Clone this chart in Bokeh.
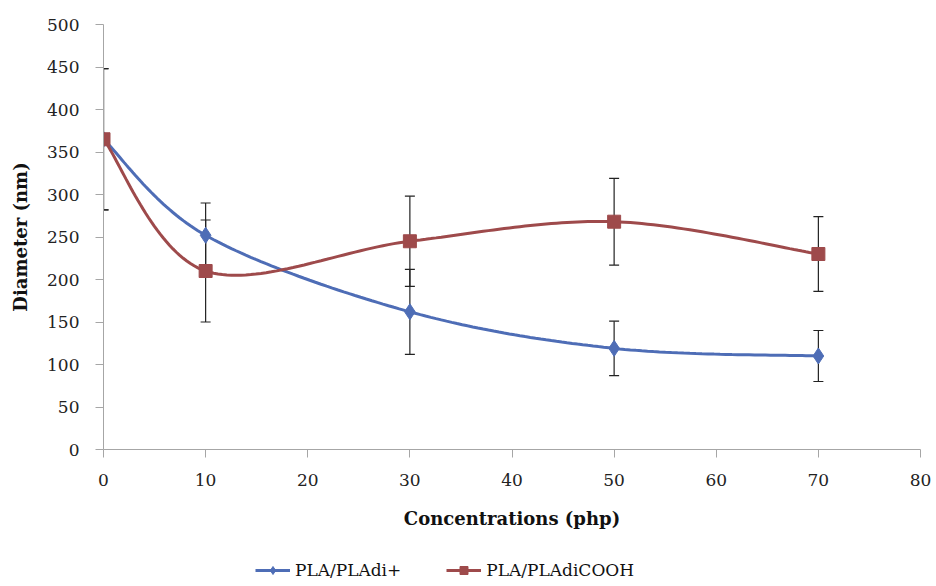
import numpy as np
from bokeh.plotting import figure
from bokeh.layouts import column
from bokeh.models import Range1d, Whisker, TeeHead, ColumnDataSource, Legend, LegendItem, FixedTicker
from bokeh.embed import file_html
from bokeh.resources import INLINE

# ---- data ----
conc = [0, 10, 30, 50, 70]
dia_plus = [365, 252, 162, 119, 110]
err_plus = [83, 38, 50, 32, 30]
dia_cooh = [365, 210, 245, 268, 230]
err_cooh = [83, 60, 53, 51, 44]
x_ticks = [0, 10, 20, 30, 40, 50, 60, 70, 80]
y_ticks = [0, 50, 100, 150, 200, 250, 300, 350, 400, 450, 500]
series_names = ["PLA/PLAdi+", "PLA/PLAdiCOOH"]

BLUE = "#4E6DB6"
RED = "#9E4A4B"
FONT = "DejaVu Serif"

W = 936
H1, H2 = 549, 37
FL, FR, FT, FB = 103, 16, 24, 100
sx = (W - FL - FR) / 80.0
sy = (H1 - FT - FB) / 500.0


def smooth(xs, ys, n=40):
    # Bezier smoothing (Excel-like), computed in screen proportions
    P = np.column_stack([np.array(xs, float) * sx, np.array(ys, float) * sy])
    out = []
    m = len(P)
    for i in range(m - 1):
        p0 = P[i - 1] if i > 0 else P[i]
        p1, p2 = P[i], P[i + 1]
        p3 = P[i + 2] if i + 2 < m else P[i + 1]
        c1 = p1 + (p2 - p0) / 6.0
        c2 = p2 - (p3 - p1) / 6.0
        t = np.linspace(0, 1, n)[:, None]
        seg = (1 - t) ** 3 * p1 + 3 * (1 - t) ** 2 * t * c1 + 3 * (1 - t) * t ** 2 * c2 + t ** 3 * p2
        out.append(seg if i == 0 else seg[1:])
    c = np.vstack(out)
    return c[:, 0] / sx, c[:, 1] / sy


p = figure(width=W, height=H1, output_backend="svg", toolbar_location=None,
           x_range=Range1d(0, 80), y_range=Range1d(0, 500),
           min_border_left=FL, min_border_right=FR, min_border_top=FT, min_border_bottom=FB)
p.outline_line_color = None
p.xgrid.visible = False
p.ygrid.visible = False
p.background_fill_color = "white"

for ax in (p.xaxis[0], p.yaxis[0]):
    ax.axis_line_color = "#A6A6A6"
    ax.major_tick_line_color = "#A6A6A6"
    ax.major_tick_in = 0
    ax.major_tick_out = 8
    ax.minor_tick_line_color = None
    ax.major_label_text_font = FONT
    ax.major_label_text_font_size = "17px"
    ax.major_label_text_color = "#222222"
    ax.axis_label_text_font = FONT
    ax.axis_label_text_font_size = "18px"
    ax.axis_label_text_font_style = "bold"
    ax.axis_label_text_color = "#111111"

p.xaxis.ticker = FixedTicker(ticks=x_ticks)
p.yaxis.ticker = FixedTicker(ticks=y_ticks)
p.xaxis.axis_label = "Concentrations (php)"
p.yaxis.axis_label = "Diameter (nm)"
p.xaxis.major_label_standoff = 16
p.xaxis.axis_label_standoff = 19
p.yaxis.major_label_standoff = 16
p.yaxis.axis_label_standoff = 13

# error bars
for ys, es in ((dia_cooh, err_cooh), (dia_plus, err_plus)):
    src = ColumnDataSource(dict(x=conc,
                                lo=[a - b for a, b in zip(ys, es)],
                                hi=[a + b for a, b in zip(ys, es)]))
    w = Whisker(source=src, base="x", lower="lo", upper="hi", dimension="height",
                line_color="#222222", line_width=1.2,
                upper_head=TeeHead(size=10, line_color="#222222", line_width=1.2),
                lower_head=TeeHead(size=10, line_color="#222222", line_width=1.2))
    p.add_layout(w)

bx, by = smooth(conc, dia_plus)
rx, ry = smooth(conc, dia_cooh)
p.line(bx, by, line_color=BLUE, line_width=3)
p.scatter(conc, dia_plus, marker="diamond", size=16, fill_color=BLUE, line_color=BLUE)
p.line(rx, ry, line_color=RED, line_width=3)
p.scatter(conc, dia_cooh, marker="square", size=13, fill_color=RED, line_color=RED)

# legend strip (separate figure so it is not clipped); its frame aligns with p's frame
lf = figure(width=W, height=H2, output_backend="svg", toolbar_location=None,
            x_range=Range1d(0, 1), y_range=Range1d(0, 1),
            min_border=0, min_border_left=0, min_border_right=0,
            min_border_top=0, min_border_bottom=0)
lf.axis.visible = False
lf.xgrid.visible = False
lf.ygrid.visible = False
lf.outline_line_color = None
hx, hy = [-5, -4], [-5, -4]  # off-range proxies: only their legend glyphs show
ll1 = lf.line(hx, hy, line_color=BLUE, line_width=3)
lm1 = lf.scatter(hx, hy, marker="diamond", size=12, fill_color=BLUE, line_color=BLUE)
ll2 = lf.line(hx, hy, line_color=RED, line_width=3)
lm2 = lf.scatter(hx, hy, marker="square", size=11, fill_color=RED, line_color=RED)
legend = Legend(items=[LegendItem(label=series_names[0], renderers=[ll1, lm1]),
                       LegendItem(label=series_names[1], renderers=[ll2, lm2])],
                orientation="horizontal", location=(152, 6),
                label_text_font=FONT, label_text_font_size="17px",
                label_text_color="#111111",
                border_line_color=None, background_fill_alpha=0,
                glyph_width=35, glyph_height=20, spacing=45, margin=0, padding=0,
                label_standoff=5)
lf.add_layout(legend)

layout = column(p, lf, spacing=0)
open("out.html", "w").write(file_html(layout, INLINE))
